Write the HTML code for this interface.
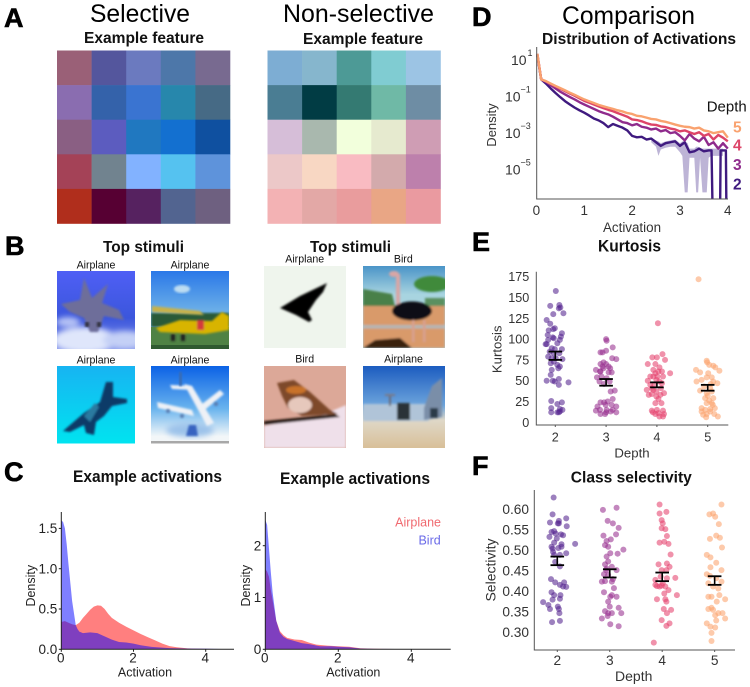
<!DOCTYPE html>
<html lang="en">
<head>
<meta charset="utf-8">
<title>Selective vs non-selective features</title>
<style>
html,body{margin:0;padding:0;background:#fff;width:750px;height:687px;overflow:hidden}
svg{display:block;font-family:"Liberation Sans",Arial,sans-serif;filter:blur(.3px)}
.bt{font-weight:bold;fill:#111}
.letter{font-weight:bold;font-size:27px;fill:#000;stroke:#000;stroke-width:.6px}
.head{font-size:24.6px;fill:#000}
.cap{font-size:10.6px;fill:#111;text-anchor:middle}
</style>
</head>
<body>
<svg id="fig" xmlns="http://www.w3.org/2000/svg" width="750" height="687" viewBox="0 0 750 687">
<defs>
<filter id="b1" x="-10%" y="-10%" width="120%" height="120%"><feGaussianBlur stdDeviation="1"/></filter>
<filter id="b2" x="-20%" y="-20%" width="140%" height="140%"><feGaussianBlur stdDeviation="3"/></filter>
<linearGradient id="g1" x1="0" y1="0" x2="0" y2="1"><stop offset="0" stop-color="#4f5ff5"/><stop offset=".6" stop-color="#3b56dc"/><stop offset="1" stop-color="#7f90ea"/></linearGradient>
<linearGradient id="g2" x1="0" y1="0" x2="0" y2="1"><stop offset="0" stop-color="#2a78e8"/><stop offset=".5" stop-color="#6aaee8"/></linearGradient>
<linearGradient id="g3" x1="0" y1="0" x2="0" y2="1"><stop offset="0" stop-color="#17b4f2"/><stop offset="1" stop-color="#00e4f0"/></linearGradient>
<linearGradient id="g4" x1="0" y1="0" x2="0" y2="1"><stop offset="0" stop-color="#0b62e6"/><stop offset=".55" stop-color="#6ab4ee"/><stop offset=".9" stop-color="#f2f6f8"/></linearGradient>
<linearGradient id="g6" x1="0" y1="0" x2="0" y2="1"><stop offset="0" stop-color="#4a94c8"/><stop offset=".35" stop-color="#a8d4e0"/></linearGradient>
<linearGradient id="g8" x1="0" y1="0" x2="0" y2="1"><stop offset="0" stop-color="#1c5cc0"/><stop offset=".48" stop-color="#6ca4dc"/><stop offset=".66" stop-color="#dfd8c8"/><stop offset="1" stop-color="#d8bf98"/></linearGradient>
<clipPath id="c1"><rect x="57" y="271" width="78" height="78"/></clipPath>
<clipPath id="c2"><rect x="151" y="271" width="78" height="78"/></clipPath>
<clipPath id="c3"><rect x="57" y="366" width="78" height="77.5"/></clipPath>
<clipPath id="c4"><rect x="151" y="366" width="78" height="77.5"/></clipPath>
<clipPath id="c5"><rect x="264" y="266" width="82" height="82"/></clipPath>
<clipPath id="c6"><rect x="363" y="266" width="82" height="82"/></clipPath>
<clipPath id="c7"><rect x="264" y="366" width="82" height="82"/></clipPath>
<clipPath id="c8"><rect x="363" y="366" width="82" height="82"/></clipPath>
<clipPath id="clipD"><rect x="536" y="44" width="194" height="155"/></clipPath>
</defs>

<text class="letter" x="4" y="27">A</text>
<text class="letter" x="5" y="255">B</text>
<text class="letter" x="4" y="481">C</text>
<text class="letter" x="472" y="26">D</text>
<text class="letter" x="472" y="251">E</text>
<text class="letter" x="472" y="475">F</text>

<text class="head" x="140" y="22" text-anchor="middle" textLength="100" lengthAdjust="spacingAndGlyphs">Selective</text>
<text class="head" x="358.5" y="22" text-anchor="middle" textLength="151" lengthAdjust="spacingAndGlyphs">Non-selective</text>
<text class="head" x="628.5" y="24" text-anchor="middle" textLength="133" lengthAdjust="spacingAndGlyphs">Comparison</text>

<text class="bt" x="144" y="43" font-size="15.5" text-anchor="middle" textLength="120" lengthAdjust="spacingAndGlyphs">Example feature</text>
<text class="bt" x="363" y="44" font-size="15.5" text-anchor="middle" textLength="120" lengthAdjust="spacingAndGlyphs">Example feature</text>
<text class="bt" x="143.5" y="252" font-size="15.5" text-anchor="middle" textLength="81" lengthAdjust="spacingAndGlyphs">Top stimuli</text>
<text class="bt" x="350.5" y="252" font-size="15.5" text-anchor="middle" textLength="81" lengthAdjust="spacingAndGlyphs">Top stimuli</text>
<text class="bt" x="147.5" y="482" font-size="16.5" text-anchor="middle" textLength="149" lengthAdjust="spacingAndGlyphs">Example activations</text>
<text class="bt" x="355" y="484" font-size="16.5" text-anchor="middle" textLength="150" lengthAdjust="spacingAndGlyphs">Example activations</text>

<g id="heatA"></g>
<g id="heatB"></g>

<!-- stimuli captions -->
<text class="cap" x="96" y="268.7">Airplane</text>
<text class="cap" x="190" y="268.7">Airplane</text>
<text class="cap" x="96" y="363.3">Airplane</text>
<text class="cap" x="190" y="363.3">Airplane</text>
<text class="cap" x="304.7" y="262.7">Airplane</text>
<text class="cap" x="403.3" y="262.7">Bird</text>
<text class="cap" x="304.7" y="362.3">Bird</text>
<text class="cap" x="403.5" y="362.3">Airplane</text>

<!-- stimuli pictures -->
<g clip-path="url(#c1)">
 <rect x="57" y="271" width="78" height="78" fill="url(#g1)"/>
 <g filter="url(#b2)"><ellipse cx="85" cy="340" rx="32" ry="13" fill="#dfe6fb"/><ellipse cx="125" cy="340" rx="22" ry="9" fill="#c4d0f6"/><ellipse cx="68" cy="322" rx="12" ry="5" fill="#b7c4f6"/></g>
 <polygon filter="url(#b1)" points="61,304 80,300 84,278 92,298 108,284 102,303 119,310 124,320 104,316 98,332 90,332 84,318 70,312" fill="#6e6e9a"/>
 <g filter="url(#b1)" fill="#303040"><rect x="85" y="322" width="4" height="5"/><rect x="97" y="322" width="4" height="5"/></g>
</g>
<g clip-path="url(#c2)">
 <rect x="151" y="271" width="78" height="78" fill="url(#g2)"/>
 <ellipse cx="182" cy="289" rx="8" ry="4" fill="#bcdcf2" filter="url(#b1)"/>
 <rect x="151" y="313" width="78" height="14" fill="#2a5a38" filter="url(#b1)"/>
 <rect x="151" y="327" width="78" height="22" fill="#4f8244"/>
 <rect x="151" y="345" width="78" height="4" fill="#2f5a30"/>
 <g filter="url(#b1)"><polygon points="152,306 200,311 204,315 152,312" fill="#c9b24a"/><polygon points="156,328 180,320 212,321 222,312 229,316 229,330 205,334 160,332" fill="#d8b400"/><rect x="197" y="320" width="7" height="10" fill="#d43a3a"/><rect x="171" y="334" width="4" height="7" fill="#222"/><rect x="181" y="334" width="4" height="7" fill="#222"/></g>
</g>
<g clip-path="url(#c3)">
 <rect x="57" y="366" width="78" height="78" fill="url(#g3)"/>
 <g filter="url(#b1)"><polygon points="63,431 84,413 100,402 106,382 113,382 113,397 127,399 127,403 112,406 104,416 96,422 94,435 86,433 84,425 70,432" fill="#0d3a68"/><polygon points="84,416 95,403 99,407 90,422" fill="#2c7aa0"/></g>
</g>
<g clip-path="url(#c4)">
 <rect x="151" y="366" width="78" height="78" fill="url(#g4)"/>
 <ellipse cx="190" cy="430" rx="24" ry="7" fill="#9cc2ea" filter="url(#b2)"/>
 <rect x="151" y="441" width="78" height="2.5" fill="#a8a8a8"/>
 <g filter="url(#b1)" fill="#eef1f6"><polygon points="184,384 192,386 214,423 207,426"/><polygon points="157,402 192,410 194,416 158,408"/><polygon points="220,390 197,408 201,413 224,394"/><polygon points="170,385 192,386 193,390 172,389"/></g>
 <g filter="url(#b1)" fill="#5a7cae"><circle cx="168" cy="411" r="2"/><circle cx="182" cy="416" r="2"/><circle cx="216" cy="404" r="2"/></g>
 <polygon points="189,425 196,425 198,436 186,436" fill="#3864c0" filter="url(#b1)"/>
 <rect x="179" y="372" width="3" height="14" fill="#3a6cb0" filter="url(#b1)"/>
</g>
<g clip-path="url(#c5)">
 <rect x="264" y="266" width="82" height="82" fill="#eff5ed"/>
 <polygon filter="url(#b1)" points="280,308 300,296 323,285 327,283 323,292 316,300 308,312 312,320 309,322 296,315" fill="#000"/>
</g>
<g clip-path="url(#c6)">
 <rect x="363" y="266" width="82" height="82" fill="url(#g6)"/>
 <g filter="url(#b1)"><polygon points="363,289 392,294 395,306 363,306" fill="#4a8048"/><ellipse cx="432" cy="284" rx="18" ry="8" fill="#3f8a3a"/><rect x="425" y="298" width="20" height="8" fill="#5a9060"/><rect x="363" y="306" width="82" height="42" fill="#d99a6a"/><rect x="363" y="325" width="82" height="3.5" fill="#b6b6b4"/><rect x="396" y="274" width="4" height="32" fill="#d8a6a6"/><ellipse cx="394" cy="274" rx="5" ry="3" fill="#d8a6a6"/><ellipse cx="412" cy="311" rx="20" ry="9.5" fill="#0c1016"/><rect x="412" y="320" width="2.5" height="22" fill="#d8a090"/><rect x="423" y="320" width="2.5" height="22" fill="#d8a090"/><polygon points="363,348 375,340 400,338 412,348" fill="#3a2010"/></g>
</g>
<g clip-path="url(#c7)">
 <rect x="264" y="366" width="82" height="82" fill="#dca898"/>
 <g filter="url(#b1)"><polygon points="264,426 320,416 346,405 346,448 264,448" fill="#efe0ea"/><polygon points="264,421 335,414 340,417 264,425" fill="#2c1a18"/><polygon points="277,383 294,380 310,392 330,410 338,414 302,416 288,408 282,396" fill="#7e4a2c"/><ellipse cx="300" cy="405" rx="12" ry="8" fill="#e6c8bc"/><ellipse cx="296" cy="390" rx="10" ry="4" fill="#c8722c"/></g>
</g>
<g clip-path="url(#c8)">
 <rect x="363" y="366" width="82" height="82" fill="url(#g8)"/>
 <g filter="url(#b1)"><rect x="363" y="404" width="66" height="17" fill="#b0c4d8"/><rect x="397" y="403" width="13" height="17" fill="#2a3038"/><polygon points="424,408 432,386 442,378 442,417 424,420" fill="#7a8ea8"/><rect x="389" y="396" width="2" height="10" fill="#6a6a78"/><rect x="385" y="394" width="10" height="2" fill="#7a7a88"/><rect x="430" y="408" width="8" height="10" fill="#2c3a4a"/></g>
</g>

<g id="chartC1"></g>
<g id="chartC2"></g>
<g id="chartD"></g>
<g id="chartE"></g>
<g id="chartF"></g>
</svg>

<script>
/* ---------- heatmap colours ---------- */
var heatSelective = [
 ['#9a6077','#54569d','#6b7abf','#4d77a9','#786a90'],
 ['#8a6db0','#3462aa','#3a74d1','#2787ac','#466a85'],
 ['#8a5f83','#5c5cbf','#2078c0','#1370d0','#0f50a0'],
 ['#a44257','#71838f','#82b2ff','#55c2f0','#5e93db'],
 ['#b02e1c','#570033','#562260','#526490','#6e6080']];
var heatNonSelective = [
 ['#7dadd3','#86b6cd','#4d9a96','#80ccd2','#9cc4e4'],
 ['#4a7d93','#013c44','#347a72','#6fb9a6','#6e8da4'],
 ['#d6bed8','#a9b8ae','#f2ffdc','#e6eacf','#cf9db4'],
 ['#ecc8c8','#f8d7c3','#f9bbc2','#d3aaac','#bd80ac'],
 ['#f3b2b4','#e3a8a6','#e99c9d','#e9a685','#ea9aa0']];

/* ---------- panel C data ---------- */
var c1BirdX = [0,.05,.1,.15,.2,.3,.4,.45,.5,.6,.8,1,1.2,1.4,1.6,1.8,2,2.2,2.5,3,3.5,4,4.7];
var c1BirdY = [1.6,1.58,1.5,1.3,1.05,.6,.3,.25,.22,.2,.21,.2,.16,.12,.09,.085,.07,.05,.03,.015,.01,.008,0];
var c1PlaneX = [0,.1,.2,.3,.4,.5,.6,.7,.8,.9,1,1.1,1.2,1.3,1.4,1.6,1.8,2,2.2,2.4,2.6,2.8,3,3.2,3.5,4,4.7];
var c1PlaneY = [.34,.35,.33,.31,.3,.33,.39,.44,.49,.53,.545,.54,.5,.44,.39,.33,.28,.235,.19,.15,.11,.07,.04,.025,.012,.005,0];
var c2BirdX = [0,.05,.1,.15,.2,.3,.4,.5,.6,.8,1,1.2,1.5,1.8,2,2.3,2.6,3,4,4.85];
var c2BirdY = [2.5,2.4,1.95,1.5,1.1,.55,.32,.24,.2,.16,.12,.1,.06,.06,.05,.04,.015,.008,.003,0];
var c2PlaneX = [0,.05,.1,.15,.2,.25,.3,.4,.5,.6,.8,1,1.2,1.4,1.7,2,2.3,2.6,3,4,4.85];
var c2PlaneY = [1.55,1.5,1.4,1.15,.95,.75,.55,.35,.27,.22,.19,.18,.13,.09,.07,.06,.05,.02,.01,.004,0];
var c1XTicks = [0,2,4];
var c1YTicks = ['0.0','0.5','1.0','1.5'];
var c2XTicks = [0,2,4];
var c2YTicks = ['0','1','2'];

/* ---------- panel D data (log10 density) ---------- */
var dActivation = [.02,.1,.2,.3,.4,.5,.6,.7,.8,.9,1,1.1,1.2,1.3,1.4,1.5,1.6,1.7,1.8,1.9,2,2.1,2.2,2.3,2.4,2.5,2.6,2.7,2.8,2.9,3,3.1,3.2,3.3,3.4,3.5,3.6,3.7,3.8,3.9,4];
var dDepth5 = [1.3,-.1,-.2,-.33,-.46,-.58,-.7,-.83,-.95,-1.08,-1.2,-1.3,-1.4,-1.5,-1.58,-1.65,-1.72,-1.8,-1.86,-1.95,-2,-2.1,-2.13,-2.2,-2.27,-2.3,-2.38,-2.43,-2.5,-2.58,-2.65,-2.7,-2.72,-2.8,-2.75,-2.9,-2.95,-3.05,-3,-2.95,-3.3];
var dDepth4 = [1.3,-.1,-.21,-.35,-.49,-.62,-.75,-.88,-1,-1.14,-1.28,-1.38,-1.48,-1.58,-1.68,-1.77,-1.85,-1.95,-2.05,-2.15,-2.3,-2.33,-2.4,-2.5,-2.58,-2.6,-2.68,-2.72,-2.8,-2.85,-2.95,-2.9,-3,-3.1,-3,-3.2,-3.1,-3.4,-3.15,-3.3,-3.5];
var dDepth3 = [1.25,-.1,-.24,-.42,-.6,-.78,-.93,-1.07,-1.2,-1.35,-1.48,-1.6,-1.72,-1.84,-1.94,-2.02,-2.15,-2.3,-2.45,-2.5,-2.62,-2.55,-2.7,-2.75,-2.85,-2.8,-2.95,-2.88,-3.05,-3,-3.2,-3.45,-3.1,-3.35,-3.5,-3.25,-3.7,-3.55,-3.9,-3.6,-3.9];
var dDepth2X = [.02,.1,.2,.3,.4,.5,.6,.7,.8,.9,1,1.1,1.2,1.3,1.4,1.5,1.6,1.7,1.8,1.9,2,2.1,2.2,2.3,2.4,2.5,2.6,2.7,2.8,2.9,3,3.1,3.2,3.3,3.4,3.5,3.6,3.66,3.68,3.84,3.85,3.9,3.96,3.97,4];
var dDepth2 = [1.2,-.1,-.33,-.6,-.85,-1.08,-1.3,-1.48,-1.65,-1.8,-1.93,-2.08,-2.25,-2.35,-2.5,-2.72,-2.55,-2.65,-2.75,-2.9,-3.2,-3.28,-3.25,-3.4,-3.35,-3.55,-3.75,-3.6,-3.55,-3.5,-3.75,-3.55,-4.1,-4.05,-3.9,-4.05,-4,-4,-7,-7,-4,-4,-4,-7,-7];
var dBandX = [2.4,2.5,2.55,2.6,2.7,2.8,2.9,3,3.05,3.1,3.16,3.2,3.3,3.34,3.38,3.42,3.47,3.56,3.6,3.65,3.7,3.9];
var dBandLow = [-3.55,-3.8,-4.3,-3.95,-3.85,-3.8,-3.8,-4.1,-4.3,-6.3,-6.3,-4.4,-4.4,-6.3,-6.3,-4.4,-6.3,-6.3,-4.4,-4.3,-4.3,-4.3];
var dBandHigh = [-3.3,-3.45,-3.5,-3.6,-3.5,-3.45,-3.4,-3.6,-3.5,-3.5,-3.6,-3.9,-3.9,-3.8,-3.8,-3.85,-3.9,-3.9,-3.9,-3.9,-3.9,-3.9];
var dXTicks = [0,1,2,3,4];
var dYExponents = ['1','−1','−3','−5'];
var dYLevels = [1,-1,-3,-5];
var depthNames = ['2','3','4','5'];

/* ---------- panel E data ---------- */
var kurt2 = [157.8,140,141,137,138,130,131,123,118.5,113,112,110.5,105,107,103,102,99,101,99,94,94,95,89,88,88,85,83,83,79,77,77,76,73,71,69,67,65,63,57,50,50,52,49,45,48,25.6,24,22,17,16,12,12,13,12,15];
var kurtJit2 = [.01,-.10,.08,.07,.10,-.04,.16,-.17,-.10,-.01,-.04,-.13,-.15,.13,.11,-.05,-.14,-.03,.09,-.19,-.17,.04,-.07,-.01,.13,-.11,-.03,.08,-.14,-.07,.01,.14,-.03,-.09,.04,.09,.06,-.07,-.09,-.17,-.05,.07,-.01,.07,.26,-.08,.13,.04,-.08,.09,-.08,.04,.09,.07,.14];
var kurt3 = [100,98,90,86,84,84,77,76,72,70,70,67,63,65,65,61,60,60,54,55,53,38,37,28,25,24,24,19,21,21,19,14,15,15,13,12,10,10,12,15,67,49,46,49,61];
var kurtJit3 = [0,.01,.13,0,-.11,-.07,.12,.20,-.05,-.11,0,.05,-.20,-.05,.08,-.11,.05,.11,-.18,-.09,.01,.17,.09,.13,.03,-.04,-.11,-.17,-.01,.11,.20,-.20,-.12,.01,.09,.20,-.11,-.02,0,.13,-.07,-.13,-.04,.07,-.12];
var kurt4 = [119,82,78,78,75,70,70,66,63,61,59,55,59,55,50,51,49,39,41,41,33,34,31,35,28,23,23,14,15,12,14,10,11,7,7,10,39,37,33,61,45,45,55,55,47];
var kurtJit4 = [.02,.11,-.09,0,.16,-.18,-.03,.05,-.07,.03,.26,-.13,-.03,.12,-.18,-.01,.05,-.20,-.10,.08,-.16,-.10,-.01,.14,.03,-.03,.09,-.10,0,-.08,.12,-.03,.03,.12,.05,.14,-.07,-.01,.07,.10,-.05,-.13,.01,-.07,.10];
var kurt5 = [172,74,72,68,63,60,62,69,66,59,51,54,54,49,49,47,43,41,38,35,37,29,26,29,23,23,17,15,16,17,13,10,10,7,6,13,9,21,32,46];
var kurtJit5 = [-.18,-.02,-.01,.11,-.23,-.15,.23,.03,.15,.01,-.12,-.02,.08,-.22,.11,.19,-.07,.05,-.15,-.02,.08,-.05,.03,.11,-.02,.08,-.12,-.05,.05,.14,-.12,-.02,.13,.20,-.03,.05,-.09,.10,0,.06];
var kurtLow = [75,44,42,38];
var kurtHigh = [85,52,48,45];
var kurtTicks = [0,25,50,75,100,125,150,175];

/* ---------- panel F data ---------- */
var sel2 = [.628,.587,.577,.571,.565,.567,.558,.546,.544,.538,.536,.532,.528,.515,.518,.514,.508,.505,.508,.495,.492,.488,.471,.46,.429,.421,.421,.415,.411,.41,.397,.39,.39,.381,.373,.379,.366,.356,.362,.356,.346,.324,.327,.565,.54,.488,.503];
var selJit2 = [-.07,-.09,.17,.03,.01,-.14,.18,-.06,-.11,.07,.11,-.15,-.01,.34,-.06,.08,-.11,.02,.08,-.08,.17,.05,-.04,.05,-.12,-.04,.13,.05,.11,.17,-.11,-.06,.06,.05,-.27,-.09,-.17,-.14,.01,.03,.04,-.10,.05,.03,-.03,-.06,-.09];
var sel3 = [.598,.603,.571,.565,.554,.535,.538,.526,.522,.512,.508,.501,.491,.492,.484,.472,.465,.459,.455,.451,.441,.439,.429,.423,.424,.407,.397,.39,.386,.386,.374,.362,.351,.346,.346,.346,.359,.333,.339,.319,.314,.423,.451];
var selJit3 = [-.13,.13,-.04,.06,.17,-.12,.12,.02,-.06,-.09,-.03,.26,.15,.01,-.06,-.03,-.09,.04,-.06,.13,-.11,-.03,.06,-.15,-.09,.08,-.11,.04,.13,.01,-.03,0,-.09,.04,-.03,.22,.17,-.15,-.04,.01,.17,.04,-.07];
var sel4 = [.611,.593,.589,.573,.565,.553,.551,.534,.518,.52,.515,.489,.465,.467,.459,.451,.451,.435,.427,.431,.432,.412,.413,.411,.402,.39,.38,.38,.374,.356,.354,.346,.329,.321,.315,.274,.415,.411,.394,.419];
var selJit4 = [-.05,.08,-.05,-.01,.01,-.01,.06,.09,-.05,.04,.12,.16,-.07,.09,.14,-.01,.08,-.03,-.13,.09,.25,-.10,-.01,.06,.12,.28,-.10,.06,.08,.03,.17,.09,-.01,.14,.08,-.16,-.13,-.05,.04,.01];
var sel5 = [.611,.587,.589,.581,.563,.535,.53,.527,.506,.488,.482,.469,.458,.451,.441,.437,.431,.423,.419,.411,.406,.386,.386,.38,.374,.359,.356,.354,.346,.346,.341,.333,.328,.321,.313,.311,.298,.278,.39];
var selJit5 = [.13,-.10,-.03,.01,.08,.03,.10,-.09,.14,-.15,-.08,.03,-.08,.13,-.15,-.09,.03,.13,-.12,-.03,.07,-.12,-.06,.20,.04,-.06,-.12,-.03,.07,.15,.01,.20,.03,-.15,-.08,.01,-.06,-.06,.09];
var selLow = [.463,.433,.424,.415];
var selHigh = [.484,.453,.445,.436];
var selTicks = ['0.30','0.35','0.40','0.45','0.50','0.55','0.60'];

/* ---------- helpers ---------- */
var NS = 'http://www.w3.org/2000/svg';
function mk(tag, attrs, parent) {
  var el = document.createElementNS(NS, tag);
  for (var k in attrs) el.setAttribute(k, attrs[k]);
  parent.appendChild(el);
  return el;
}
function label(parent, name, str, x, y, size, anchor, fill, rotate) {
  var t = mk('text', {x: x, y: y, 'font-size': size, 'text-anchor': anchor, fill: fill}, parent);
  
  
  if (rotate) t.setAttribute('transform', 'rotate(-90 ' + x + ' ' + y + ')');
  t.textContent = str;
  return t;
}
function boldTitle(t, len) {
  t.setAttribute('font-weight', 'bold');
  t.setAttribute('textLength', len);
  t.setAttribute('lengthAdjust', 'spacingAndGlyphs');
}
function axisLine(parent, name, x1, y1, x2, y2, col, w) {
  var l = mk('line', {x1: x1, y1: y1, x2: x2, y2: y2, stroke: col, 'stroke-width': w}, parent);
  
  
  return l;
}
function poly(xs, ys, fx, fy) {
  var p = [];
  for (var i = 0; i < xs.length; i++) p.push(fx(xs[i]).toFixed(2) + ',' + fy(ys[i]).toFixed(2));
  return p;
}

/* ---------- heatmaps ---------- */
function heat(parent, colours, x0, y0, size) {
  for (var r = 0; r < colours.length; r++) for (var c = 0; c < colours[r].length; c++) {
    var cell = mk('rect', {x: x0 + c * size, y: y0 + r * size, width: size + .3, height: size + .3, fill: colours[r][c]}, parent);
    
    
  }
}
heat(document.getElementById('heatA'), heatSelective, 57, 50.5, 34.6);
heat(document.getElementById('heatB'), heatNonSelective, 267.5, 50.5, 34.6);

/* ---------- panel C ---------- */
function density(parent, o) {
  var fx = function (v) { return o.x0 + v * o.sx; };
  var fy = function (v) { return o.y0 - v * o.sy; };
  var series = [[o.planeX, o.planeY, '#ff0000', 'airplane-density-area'], [o.birdX, o.birdY, '#0000ff', 'bird-density-area']];
  series.forEach(function (s) {
    var pts = poly(s[0], s[1], fx, fy);
    pts.unshift(fx(s[0][0]) + ',' + fy(0));
    pts.push(fx(s[0][s[0].length - 1]) + ',' + fy(0));
    var a = mk('polygon', {points: pts.join(' '), fill: s[2], 'fill-opacity': .5}, parent);
    
    
  });
  axisLine(parent, 'y-axis', o.x0, 512, o.x0, o.y0 + .5, '#222', 1);
  axisLine(parent, 'x-axis', o.x0, o.y0, o.xEnd, o.y0, '#222', 1);
  o.xTicks.forEach(function (v) {
    axisLine(parent, 'x-tick', fx(v), o.y0, fx(v), o.y0 + 2.5, '#222', 1);
    label(parent, 'x-tick-label', String(v), fx(v) - .5, 662.7, 13.5, 'middle', '#222');
  });
  o.yTicks.forEach(function (s) {
    axisLine(parent, 'y-tick', o.x0 - 2.5, fy(+s), o.x0, fy(+s), '#222', 1);
    label(parent, 'y-tick-label', s, o.x0 - 4, fy(+s) + 4.6, 13.5, 'end', '#222');
  });
  label(parent, 'x-axis-title', 'Activation', o.xTitle, 676.7, 12.5, 'middle', '#222');
  label(parent, 'y-axis-title', 'Density', o.yTitleX, 585.7, 12.5, 'middle', '#222', true);
}
density(document.getElementById('chartC1'), {x0: 61.3, y0: 649.3, sx: 36.1, sy: 80.6, xEnd: 234, birdX: c1BirdX, birdY: c1BirdY, planeX: c1PlaneX, planeY: c1PlaneY, xTicks: c1XTicks, yTicks: c1YTicks, xTitle: 145, yTitleX: 35});
var c2g = document.getElementById('chartC2');
density(c2g, {x0: 265.3, y0: 649.3, sx: 36.5, sy: 51.8, xEnd: 450.7, birdX: c2BirdX, birdY: c2BirdY, planeX: c2PlaneX, planeY: c2PlaneY, xTicks: c2XTicks, yTicks: c2YTicks, xTitle: 353.3, yTitleX: 250});
label(c2g, 'legend-entry-airplane', 'Airplane', 441, 526.7, 12.5, 'end', '#f06a70');
label(c2g, 'legend-entry-bird', 'Bird', 440.7, 544.3, 12.5, 'end', '#6a6ae8');

/* ---------- panel D ---------- */
var dg = document.getElementById('chartD');
var dx = function (v) { return 536.4 + v * 47.85; };
var dy = function (v) { return 59.3 + (1 - v) * 18.23; };
var depthColors = ['#3f1a7f', '#8f2b8c', '#dd4468', '#f9a26f'];
boldTitle(label(dg, 'chart-title', 'Distribution of Activations', 639, 44, 15.5, 'middle', '#111'), 194);
var clipG = mk('g', {'clip-path': 'url(#clipD)'}, dg);


var bandPts = poly(dBandX, dBandHigh, dx, dy).concat(poly(dBandX.slice().reverse(), dBandLow.slice().reverse(), dx, dy));
var band = mk('polygon', {points: bandPts.join(' '), fill: '#bdb4d6'}, clipG);


[[dDepth2X, dDepth2], [dActivation, dDepth3], [dActivation, dDepth4], [dActivation, dDepth5]].forEach(function (s, i) {
  var line = mk('polyline', {points: poly(s[0], s[1], dx, dy).join(' '), fill: 'none', stroke: depthColors[i], 'stroke-width': 2.4, 'stroke-linejoin': 'round'}, clipG);
  
  
});
axisLine(dg, 'y-axis', 536.7, 47, 536.7, 199.5, '#555', 1);
axisLine(dg, 'x-axis', 536.7, 199, 728, 199, '#555', 1);
dXTicks.forEach(function (v) {
  label(dg, 'x-tick-label', String(v), dx(v), 215, 13.5, 'middle', '#333');
});
dYLevels.forEach(function (v, i) {
  var base = dy(v) + 5.8;
  label(dg, 'y-tick-label', '10', i === 0 ? 511 : 505, base, 14, 'start', '#333');
  label(dg, 'y-tick-exponent', dYExponents[i], i === 0 ? 527.5 : 520.5, base - 9, 9, 'start', '#333');
});
label(dg, 'x-axis-title', 'Activation', 632, 232, 13.4, 'middle', '#333');
label(dg, 'y-axis-title', 'Density', 496, 125, 13, 'middle', '#333', true);
label(dg, 'legend-title', 'Depth', 706.7, 111.7, 15, 'start', '#111');
var legendBase = [189.3, 170, 150.7, 132.7];
depthNames.forEach(function (d, i) {
  label(dg, 'legend-entry-depth-' + d, d, 733, legendBase[i], 15.5, 'start', depthColors[i]).setAttribute('font-weight', 'bold');
});

/* ---------- strip plots ---------- */
var stripColors = ['#55258f', '#98308f', '#e6446e', '#fba36f'];
function strip(parent, o) {
  var fx = function (v) { return o.x0 + (v - 2) * o.sx; };
  var fy = function (v) { return o.yRef - (v - o.vRef) * o.sy; };
  boldTitle(label(parent, 'chart-title', o.title, o.titleX, o.titleY, o.titleSize, 'middle', '#111'), o.titleLen);
  axisLine(parent, 'y-axis', o.left, o.top, o.left, o.bottom + .5, '#555', 1);
  axisLine(parent, 'x-axis', o.left, o.bottom, o.right, o.bottom, '#555', 1);
  o.yTicks.forEach(function (s) {
    label(parent, 'y-tick-label', s, o.tickX, fy(+s) + o.tickSize * .36, o.tickSize, 'end', '#333');
  });
  o.values.forEach(function (vals, k) {
    vals.forEach(function (v, j) {
      var dot = mk('circle', {cx: fx(2 + k + o.jitter[k][j]), cy: fy(v), r: 3, fill: stripColors[k], 'fill-opacity': .58}, parent);
      
      
    });
  });
  depthNames.forEach(function (d, k) {
    var cx = fx(2 + k);
    axisLine(parent, 'error-bar-stem', cx, fy(o.low[k]), cx, fy(o.high[k]), '#000', 1.6);
    axisLine(parent, 'error-bar-cap', cx - 6.8, fy(o.low[k]), cx + 6.8, fy(o.low[k]), '#000', 1.8);
    axisLine(parent, 'error-bar-cap', cx - 6.8, fy(o.high[k]), cx + 6.8, fy(o.high[k]), '#000', 1.8);
    axisLine(parent, 'x-tick', cx, o.bottom, cx, o.bottom + 2, '#555', 1);
    label(parent, 'x-tick-label', d, cx, o.xLabelY, o.tickSize, 'middle', '#333');
  });
  label(parent, 'x-axis-title', 'Depth', o.xTitleX, o.xTitleY, o.titleFont, 'middle', '#333');
  label(parent, 'y-axis-title', o.yTitle, o.yTitleX, o.yTitleY, o.titleFont, 'middle', '#333', true);
}
strip(document.getElementById('chartE'), {
  title: 'Kurtosis', titleX: 629.5, titleY: 251.7, titleSize: 16.5, titleLen: 63,
  x0: 555.3, sx: 50.8, yRef: 422.3, vRef: 0, sy: .832,
  left: 536.3, right: 728.3, top: 271.7, bottom: 425,
  yTicks: kurtTicks.map(String), tickX: 529.3, tickSize: 12.6,
  values: [kurt2, kurt3, kurt4, kurt5], jitter: [kurtJit2, kurtJit3, kurtJit4, kurtJit5],
  low: kurtLow, high: kurtHigh, xLabelY: 441.7,
  xTitleX: 632, xTitleY: 457.3, titleFont: 13.2, yTitle: 'Kurtosis', yTitleX: 501.7, yTitleY: 349.3
});
strip(document.getElementById('chartF'), {
  title: 'Class selectivity', titleX: 631.3, titleY: 482.3, titleSize: 15.6, titleLen: 121,
  x0: 557.3, sx: 52.45, yRef: 632, vRef: .3, sy: 410,
  left: 534.3, right: 735, top: 490, bottom: 650,
  yTicks: selTicks, tickX: 529, tickSize: 13.7,
  values: [sel2, sel3, sel4, sel5], jitter: [selJit2, selJit3, selJit4, selJit5],
  low: selLow, high: selHigh, xLabelY: 665,
  xTitleX: 633.7, xTitleY: 681, titleFont: 14, yTitle: 'Selectivity', yTitleX: 495.7, yTitleY: 570
});
</script>
</body>
</html>
